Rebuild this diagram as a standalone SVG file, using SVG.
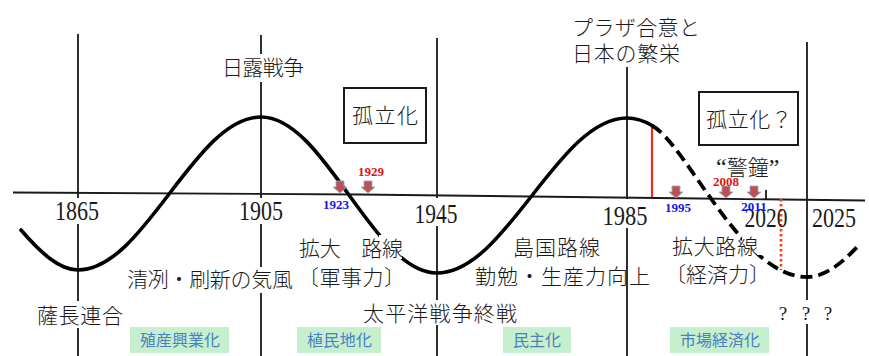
<svg xmlns="http://www.w3.org/2000/svg" width="869" height="356" viewBox="0 0 869 356">
<style>
.jp{font-family:"Noto Sans CJK JP","Noto Sans CJK SC",sans-serif;font-size:21px;font-weight:300;fill:#1a1a1a}
.yr{font-family:"Liberation Serif",serif;font-size:27px;fill:#1a1a1a;text-anchor:middle}
.vl{stroke:#1a1a1a;stroke-width:1.8;fill:none}
.cv{stroke:#000;stroke-width:3.6;fill:none;stroke-linecap:round}
.dash{stroke:#000;stroke-width:3.8;fill:none;stroke-dasharray:12 6}
.box{fill:none;stroke:#1a1a1a;stroke-width:2}
.tag rect{fill:#c6efce}
.tag text{font-family:"Noto Sans CJK JP",sans-serif;font-size:16px;fill:#4a7fc1}
.evr{font-family:"Liberation Serif",serif;font-weight:bold;font-size:13px;fill:#e01010;text-anchor:middle}
.evb{font-family:"Liberation Serif",serif;font-weight:bold;font-size:13px;fill:#1414e6;text-anchor:middle}
.q{font-family:"Liberation Serif",serif;font-size:19px;fill:#1a1a1a;text-anchor:middle}
.qt{font-family:"Liberation Serif",serif;font-size:24px}
</style>
<defs>
<path id="arr" d="M-4,0 H4 V6 H7 L0,12 L-7,6 H-4 Z" fill="#c0504d" stroke="#8ea9d6" stroke-width="0.9"/>
</defs>
<rect width="869" height="356" fill="#fff"/>

<g id="connectors">
  <polyline class="vl" stroke-width="2" points="13,192.5 360,194.5 700,198.5 865,200.5"/>
  <path class="vl" d="M78,34V198 M78,224V301 M78,328V356"/>
  <path class="vl" d="M261,35V54 M261,82V198 M261,224V267 M261,293V356"/>
  <path class="vl" d="M437,38V198 M437,226V300 M437,325V356"/>
  <path class="vl" d="M627,67V199 M627,228V356"/>
  <path class="vl" d="M807,42V300 M807,324V356"/>
  <path class="vl" d="M766,190V199"/>
  <path d="M652,126V197" stroke="#e8301c" stroke-width="2.2" fill="none"/>
  <path d="M781,199V270" stroke="#ff3a10" stroke-width="2.6" stroke-dasharray="2.5 2.5" fill="none"/>
</g>

<g id="curve">
  <path class="cv" d="M21,230 C40,252 59,270 78,270 C144.6,270 194.4,117 261,117 C325,117 373,273 437,273 C506.2,273 557.8,118 627,118 C635.3,118 643.7,120.6 652,125.5"/>
  <path class="dash" d="M652,125.5 C688,146 741.5,277 807,277 C824,277 841,264.4 858,246"/>
  <rect x="379" y="235" width="23" height="24" fill="#fff"/>
  <rect x="742" y="233" width="20" height="22" fill="#fff"/>
</g>

<g id="years">
  <text class="yr" x="77" y="220" textLength="44" lengthAdjust="spacingAndGlyphs">1865</text>
  <text class="yr" x="261" y="220" textLength="44" lengthAdjust="spacingAndGlyphs">1905</text>
  <text class="yr" x="436" y="223" textLength="43" lengthAdjust="spacingAndGlyphs">1945</text>
  <text class="yr" x="625" y="225" textLength="45" lengthAdjust="spacingAndGlyphs">1985</text>
  <text class="yr" x="766" y="227" textLength="43" lengthAdjust="spacingAndGlyphs">2020</text>
  <text class="yr" x="834" y="227" textLength="44" lengthAdjust="spacingAndGlyphs">2025</text>
</g>

<g id="events">
  <use href="#arr" x="340" y="181"/>
  <use href="#arr" x="368" y="181"/>
  <use href="#arr" x="676" y="186"/>
  <use href="#arr" x="726" y="186"/>
  <use href="#arr" x="754" y="186"/>
  <text class="evr" x="371" y="176">1929</text>
  <text class="evb" x="336" y="209">1923</text>
  <text class="evr" x="726" y="186">2008</text>
  <text class="evb" x="678" y="212">1995</text>
  <text class="evb" x="754" y="211">2011</text>
</g>

<g id="isolation1">
  <rect class="box" x="344" y="88" width="82" height="55"/>
  <text class="jp" x="352" y="123" font-size="22" textLength="66">孤立化</text>
</g>
<g id="isolation2">
  <rect class="box" x="699" y="92" width="99" height="53"/>
  <text class="jp" x="706" y="127" textLength="86">孤立化？</text>
</g>

<g id="labels">
  <text class="jp" x="222" y="75" textLength="82">日露戦争</text>
  <text class="jp" x="572" y="35" textLength="128">プラザ合意と</text>
  <text class="jp" x="572" y="61" textLength="108">日本の繁栄</text>
  <text class="jp" x="716" y="175"><tspan class="qt">“</tspan>警鐘<tspan class="qt">”</tspan></text>
  <text class="jp" x="299" y="256" textLength="104">拡大　路線</text>
  <text class="jp" x="298" y="285" textLength="107">〔軍事力〕</text>
  <text class="jp" x="127" y="287" textLength="166">清冽・刷新の気風</text>
  <text class="jp" x="37" y="323" textLength="86">薩長連合</text>
  <text class="jp" x="513" y="255" textLength="87">島国路線</text>
  <text class="jp" x="475" y="284" textLength="175">勤勉・生産力向上</text>
  <text class="jp" x="672" y="254" textLength="86">拡大路線</text>
  <text class="jp" x="665" y="282" textLength="105">〔経済力〕</text>
  <text class="jp" x="363" y="321" textLength="154">太平洋戦争終戦</text>
  <text class="q" x="783" y="320">?</text>
  <text class="q" x="806" y="320">?</text>
  <text class="q" x="828" y="320">?</text>
</g>

<g id="tag1" class="tag"><rect x="130" y="327" width="99" height="26"/><text x="140" y="346" textLength="80">殖産興業化</text></g>
<g id="tag2" class="tag"><rect x="297" y="327" width="84" height="26"/><text x="307" y="346" textLength="65">植民地化</text></g>
<g id="tag3" class="tag"><rect x="503" y="327" width="68" height="26"/><text x="513" y="346" textLength="48">民主化</text></g>
<g id="tag4" class="tag"><rect x="670" y="327" width="99" height="26"/><text x="680" y="346" textLength="80">市場経済化</text></g>
</svg>
